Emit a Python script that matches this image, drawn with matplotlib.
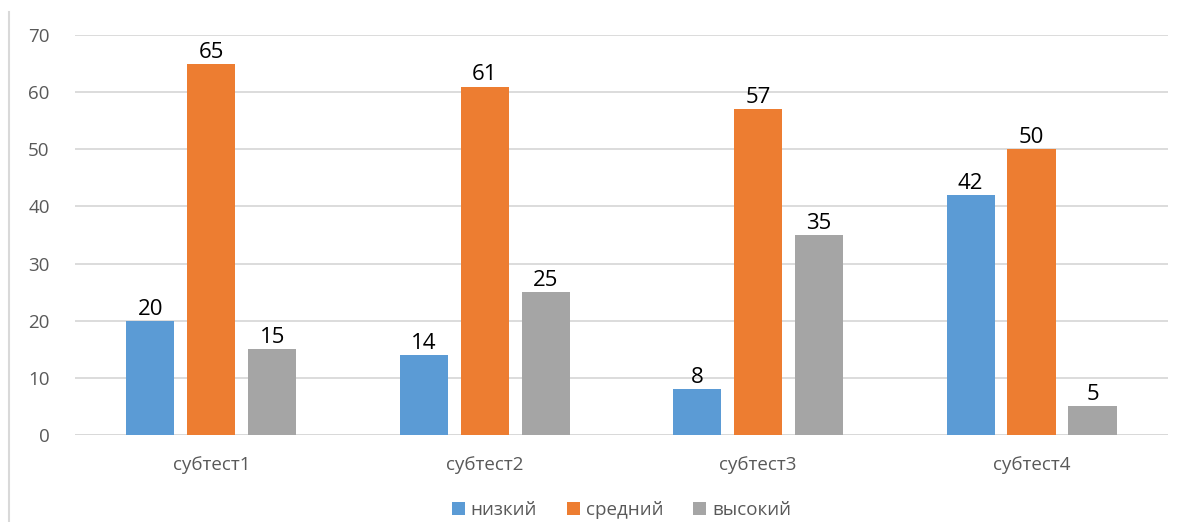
import numpy as np
import matplotlib.pyplot as plt
from matplotlib.lines import Line2D

categories = ['субтест1', 'субтест2', 'субтест3', 'субтест4']
series_names = ['низкий', 'средний', 'высокий']
low = [20, 14, 8, 42]
mid = [65, 61, 57, 50]
high = [15, 25, 35, 5]
colors = ['#5b9bd5', '#ed7d31', '#a5a5a5']

plt.rcParams['font.family'] = ['Open Sans', 'DejaVu Sans']

fig = plt.figure(figsize=(11.86, 5.22), dpi=100)
ax = fig.add_axes([0.063, 0.1667, 0.922, 0.766])

x = np.arange(len(categories))
w = 0.176
off = 0.223
for i, (vals, name) in enumerate(zip([low, mid, high], series_names)):
    bars = ax.bar(x + (i - 1) * off, vals, w, color=colors[i], label=name, zorder=3)
    for b, v in zip(bars, vals):
        ax.text(b.get_x() + b.get_width() / 2, v + 0.2, str(v), ha='center', va='bottom',
                fontsize=16, color='black')

ax.set_xlim(-0.5, 3.5)
ax.set_ylim(0, 70)
ax.set_yticks(range(0, 71, 10))
ax.yaxis.grid(True, color='#d9d9d9', linewidth=1.3, zorder=0)
for s in ['top', 'right', 'left', 'bottom']:
    ax.spines[s].set_visible(False)
ax.axhline(0, color='#d9d9d9', linewidth=1.3, zorder=1)
ax.tick_params(axis='both', length=0, labelsize=13.5, colors='#595959')
ax.tick_params(axis='y', pad=18)
ax.tick_params(axis='x', pad=15)
ax.set_xticks(x)
ax.set_xticklabels(categories)

ax.legend(loc='center', bbox_to_anchor=(0.5, -0.188), ncol=3, frameon=False,
          fontsize=13.5, labelcolor='#595959', handlelength=0.7, handleheight=0.7,
          handletextpad=0.3, columnspacing=1.6)

fig.add_artist(Line2D([9 / 1186, 9 / 1186], [0, 1 - 12 / 522], color='#d9d9d9', linewidth=1.5))

fig.savefig('out.png', dpi=100)
